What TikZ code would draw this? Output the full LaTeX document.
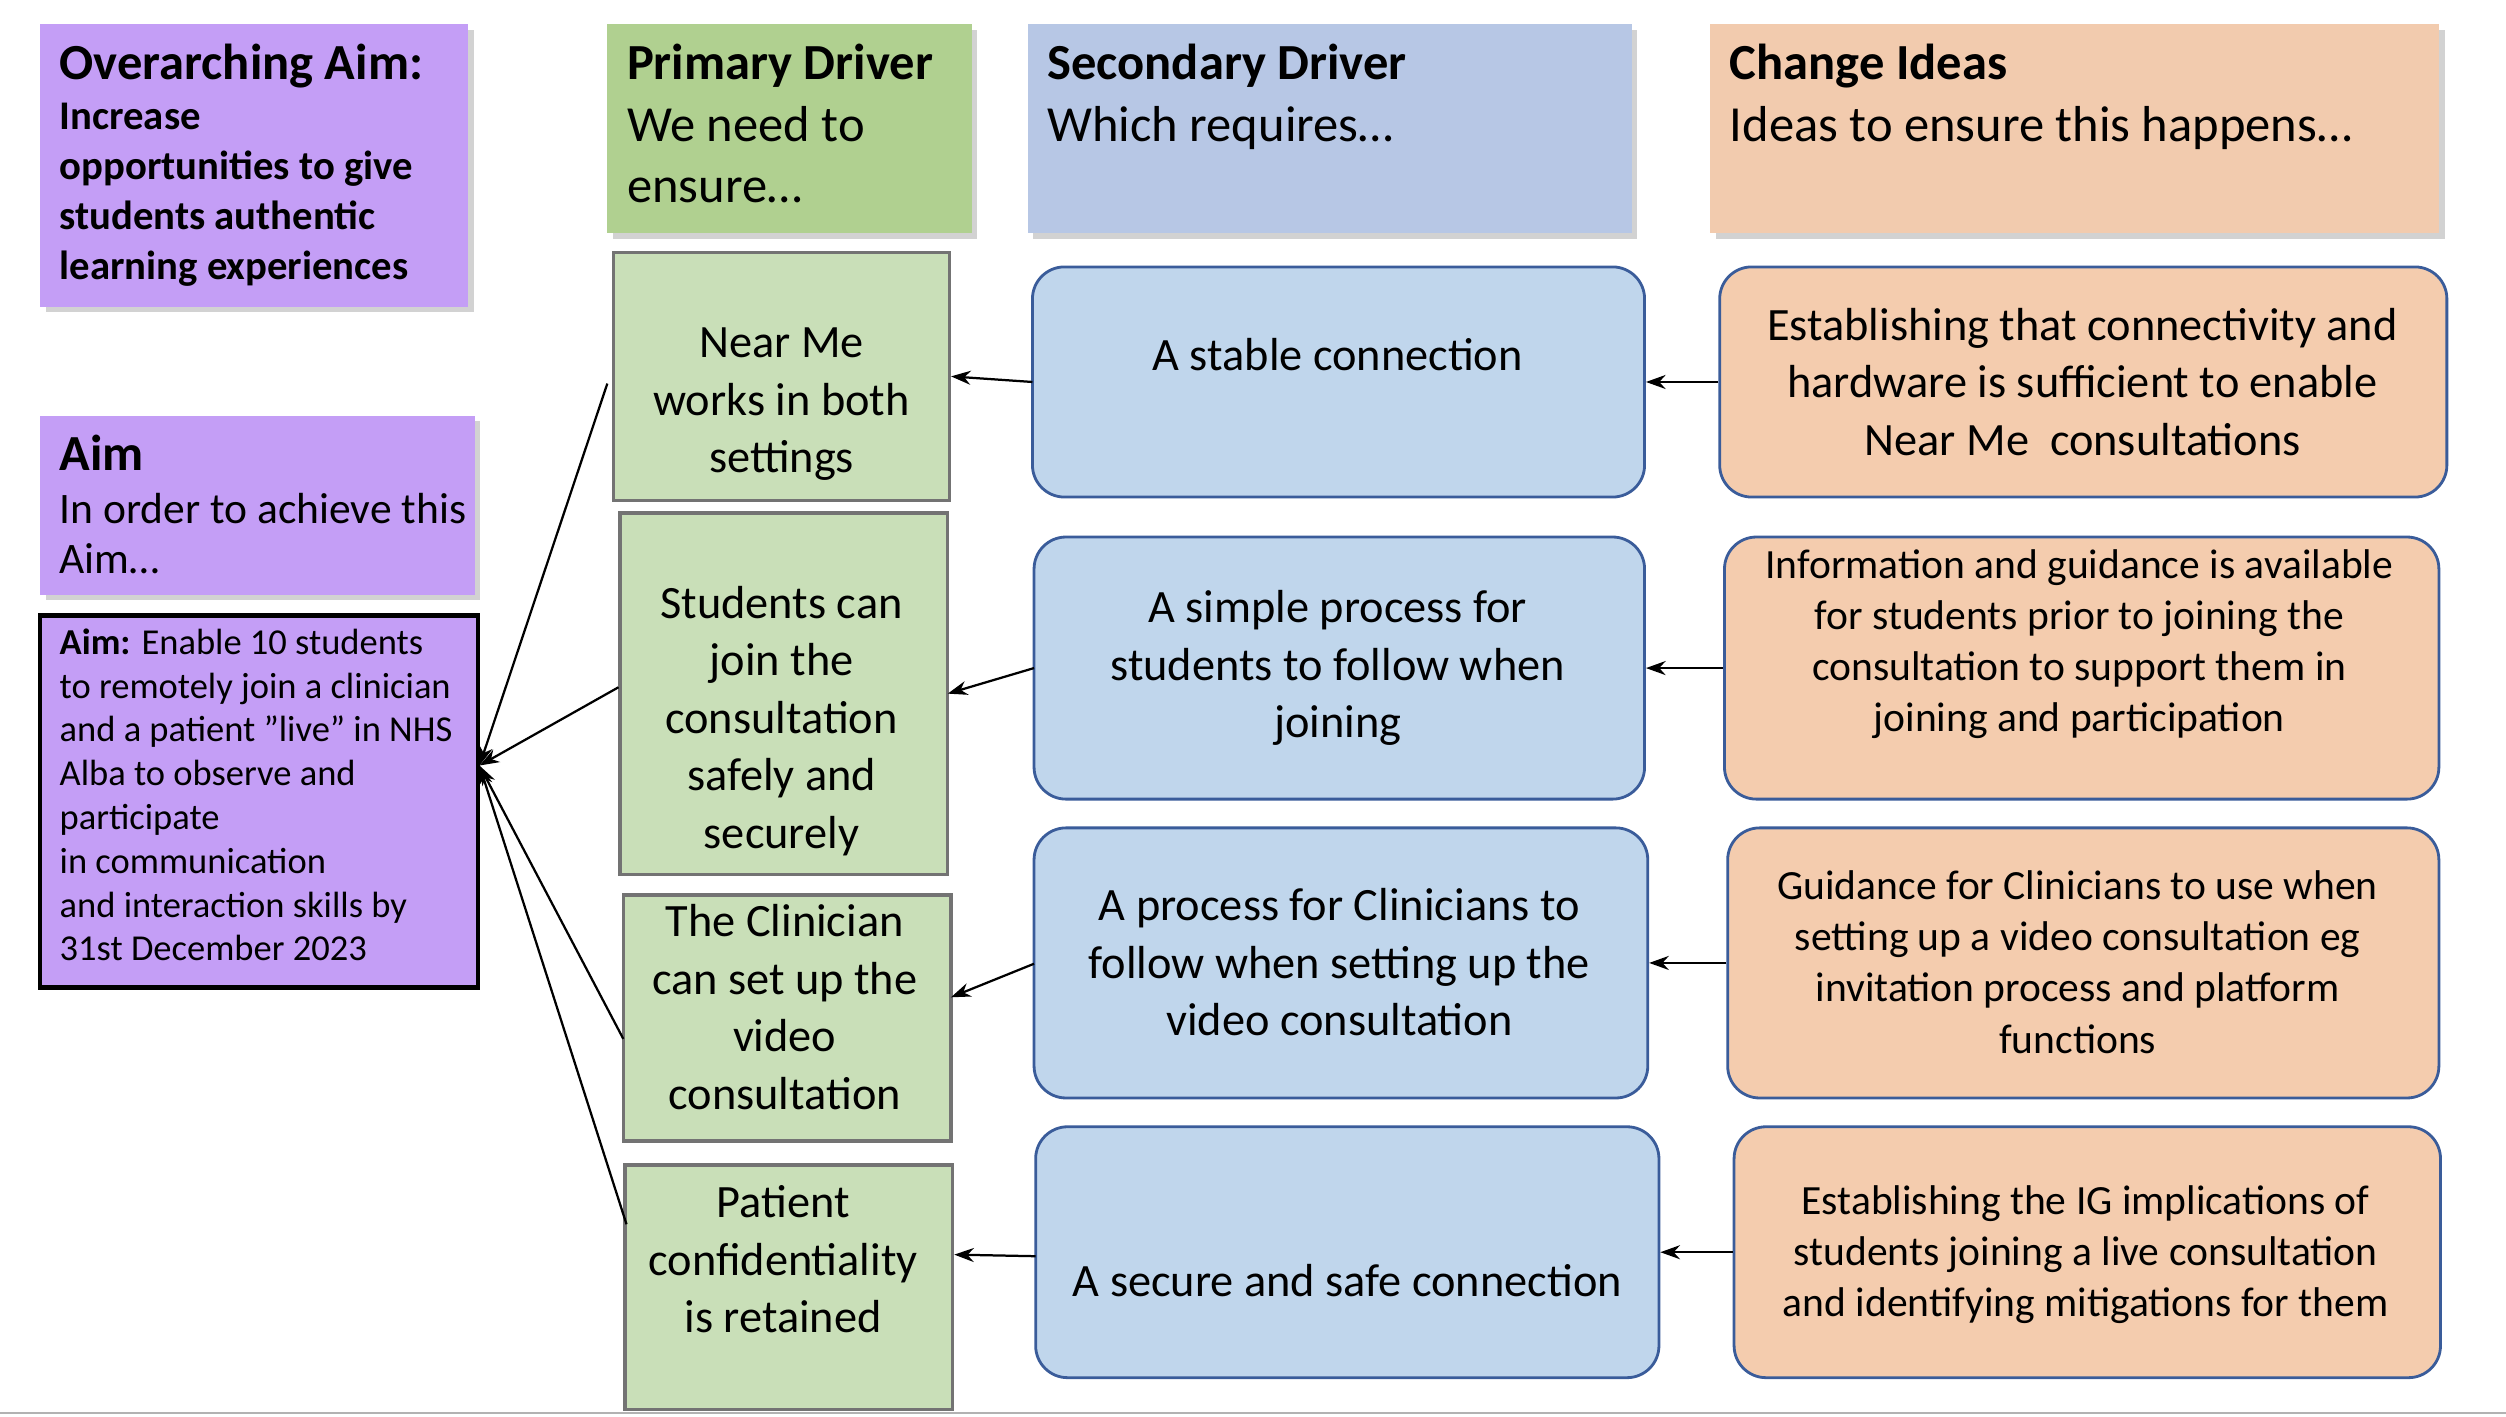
\documentclass[tikz,border=0pt]{standalone}
\usepackage{fontspec}
\setmainfont{Carlito}
\usetikzlibrary{fit,shadows,arrows.meta}
\definecolor{purp}{HTML}{C49EF6}
\definecolor{hgreen}{HTML}{B0D090}
\definecolor{hblue}{HTML}{B7C7E5}
\definecolor{horange}{HTML}{F2CBAE}
\definecolor{bgreen}{HTML}{C9DFB8}
\definecolor{bblue}{HTML}{C0D6EC}
\definecolor{borange}{HTML}{F4CCAE}
\definecolor{bline}{HTML}{3A5C9A}
\tikzset{
 hdr/.style={inner sep=0,draw=none,drop shadow={opacity=0.35,shadow xshift=0.07cm,shadow yshift=-0.07cm}},
 htxt/.style={anchor=north west,align=left,inner sep=0},
 ttl/.style={anchor=north west,inner sep=0,font=\fontsize{18}{22}\selectfont\bfseries},
 big/.style={align=center,inner sep=0,font=\fontsize{16.5}{20.5}\selectfont},
 small/.style={align=center,inner sep=0,font=\fontsize{14.8}{18.2}\selectfont},
 gbox/.style={inner sep=0,fill=bgreen,draw=gray!90!black,line width=1.2pt},
 bbox/.style={inner sep=0,fill=bblue,draw=bline,line width=1pt,rounded corners=0.4cm},
 obox/.style={inner sep=0,fill=borange,draw=bline,line width=1pt,rounded corners=0.4cm},
 arr/.style={-{Stealth[length=7pt,width=5pt]},line width=0.8pt}
}
\begin{document}
\begin{tikzpicture}[x=0.02cm,y=-0.02cm]
\useasboundingbox (0,0) rectangle (1568,886);
\fill[white] (0,0) rectangle (1568,886);
\draw[gray!60,line width=0.8pt] (0,884) -- (1568,884);
% headers
\node[hdr,fill=purp,fit={(25,15)(293,192)}] (oa) {};
\node[ttl] (oat) at (37,27) {Overarching Aim:};
\node[htxt,font=\fontsize{14.5}{17.8}\selectfont\bfseries] (oab) at (37,64) {Increase\\opportunities to give\\students authentic\\learning experiences};
\node[hdr,fill=purp,fit={(25,260)(297,372)}] (ah) {};
\node[ttl] (aht) at (37,272) {Aim};
\node[htxt,font=\fontsize{15.5}{17.8}\selectfont] (ahb) at (37,308) {In order to achieve this\\Aim\dots};
\node[inner sep=0,fill=purp,draw=black,line width=1.6pt,fit={(25,385)(299,618)}] (aim) {};
\node[htxt,font=\fontsize{13}{15.6}\selectfont] (aimt) at (37,393) {\textbf{Aim:} Enable 10 students\\to remotely join a clinician\\and a patient "live" in NHS\\Alba to observe and\\participate\\in communication\\and interaction skills by\\31st December 2023};
\node[hdr,fill=hgreen,fit={(380,15)(608,146)}] (ph) {};
\node[ttl] (pht) at (392,27) {Primary Driver};
\node[htxt,font=\fontsize{18}{22}\selectfont] (phb) at (392,66) {We need to\\ensure\dots};
\node[hdr,fill=hblue,fit={(643,15)(1021,146)}] (sh) {};
\node[ttl] (sht) at (655,27) {Secondary Driver};
\node[htxt,font=\fontsize{18}{22}\selectfont] (shb) at (655,66) {Which requires\dots};
\node[hdr,fill=horange,fit={(1070,15)(1526,146)}] (ch) {};
\node[ttl] (cht) at (1082,27) {Change Ideas};
\node[htxt,font=\fontsize{18}{22}\selectfont] (chb) at (1082,66) {Ideas to ensure this happens\dots};
% green
\node[gbox,fit={(384,158)(594,313)}] (g1) {};
\node[big] (g1t) at (489,253) {Near Me\\works in both\\settings};
\node[gbox,fit={(388,321)(593,547)}] (g2) {};
\node[big] (g2t) at (489,451) {Students can\\join the\\consultation\\safely and\\securely};
\node[gbox,fit={(390,560)(595,714)}] (g3) {};
\node[big] (g3t) at (491,630) {The Clinician\\can set up the\\video\\consultation};
\node[gbox,fit={(391,729)(596,882)}] (g4) {};
\node[big] (g4t) at (490,788) {Patient\\confidentiality\\is retained};
% blue
\node[bbox,fit={(646,167)(1029,311)}] (b1) {};
\node[big] (b1t) at (837,222) {A stable connection};
\node[bbox,fit={(647,336)(1029,500)}] (b2) {};
\node[big] (b2t) at (837,418) {A simple process for\\students to follow when\\joining};
\node[bbox,fit={(647,518)(1031,687)}] (b3) {};
\node[big] (b3t) at (838,602) {A process for Clinicians to\\follow when setting up the\\video consultation};
\node[bbox,fit={(648,705)(1038,862)}] (b4) {};
\node[big] (b4t) at (843,801) {A secure and safe connection};
% orange
\node[obox,fit={(1076,167)(1531,311)}] (o1) {};
\node[big] (o1t) at (1303,239) {Establishing that connectivity and\\hardware is sufficient to enable\\Near Me\ \ consultations};
\node[obox,fit={(1079,336)(1526,500)}] (o2) {};
\node[small] (o2t) at (1301,403) {Information and guidance is available\\for students prior to joining the\\consultation to support them in\\joining and participation};
\node[obox,fit={(1081,518)(1526,687)}] (o3) {};
\node[small] (o3t) at (1300,602) {Guidance for Clinicians to use when\\setting up a video consultation eg\\invitation process and platform\\functions};
\node[obox,fit={(1085,705)(1527,862)}] (o4) {};
\node[small] (o4t) at (1305,785) {Establishing the IG implications of\\students joining a live consultation\\and identifying mitigations for them};
% arrows
\draw[arr] (o1.west) -- (b1.east);
\draw[arr] (o2.west) -- (b2.east);
\draw[arr] (o3.west) -- (b3.east);
\draw[arr] (o4.west) -- (b4.east);
\draw[arr] (646,239) -- (g1.east);
\draw[arr] (647,418) -- (593,434);
\draw[arr] (647,603) -- (595,624);
\draw[arr] (648,786) -- (g4.east |- 0,785);
\coordinate (ain) at (300,479);
\draw[arr] (380,240) -- (ain);
\draw[arr] (387,430) -- (ain);
\draw[arr] (390,650) -- (ain);
\draw[arr] (392,766) -- (ain);
\end{tikzpicture}
\end{document}
